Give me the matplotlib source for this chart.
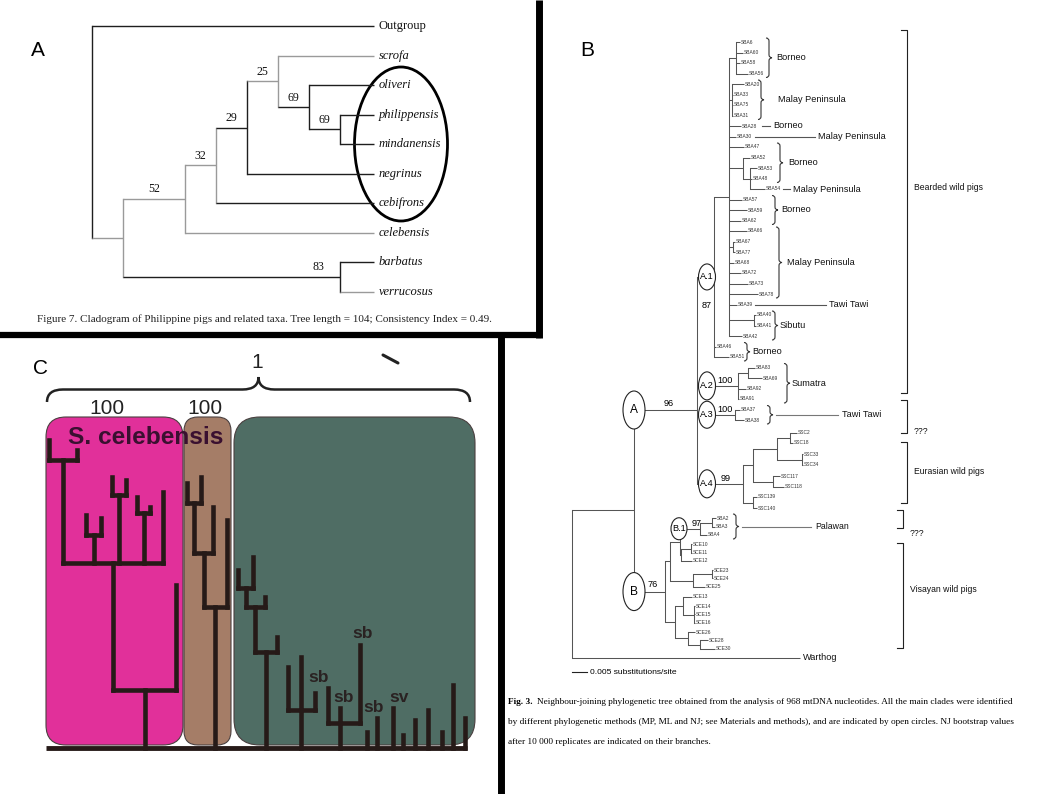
import matplotlib
matplotlib.use("Agg")
import matplotlib.pyplot as plt
from matplotlib.patches import Ellipse, FancyBboxPatch, PathPatch
from matplotlib.path import Path

W, H = 1059, 794
SANS = ["Liberation Sans", "DejaVu Sans"]
NARROW = ["Liberation Sans", "DejaVu Sans"]
SERIF = ["Liberation Serif", "DejaVu Serif"]


def N(x, *kids, y=None, b=None, bx=None, c=None, key=None):
    return {"x": x, "kids": list(kids), "y": y, "b": b, "bx": bx, "c": c, "key": key}


def T(i, c=None):
    return {"tip": i, "c": c}


def V(h, *kids, x=None):
    return {"h": h, "kids": list(kids), "x": x}


# ---------------- panel A : cladogram (x = step, y = row) ----------------
A_TAXA = ["Outgroup", "scrofa", "oliveri", "philippensis", "mindanensis",
          "negrinus", "cebifrons", "celebensis", "barbatus", "verrucosus"]
A_TIP_STEP = 9.1
A_CAPTION = ("Figure 7. Cladogram of Philippine pigs and related taxa. "
             "Tree length = 104; Consistency Index = 0.49.")
GRAY, BLACK = "#9a9a9a", "#1e1e1e"

a_tree = N(0, T(0),
           N(1,
             N(3,
               N(4,
                 N(5,
                   N(6, T(1, c=GRAY),
                     N(7, T(2),
                       N(8, T(3), T(4), b=69), b=69),
                     b=25, c=GRAY),
                   T(5), b=29),
                 T(6), b=32, c=GRAY),
               T(7, c=GRAY), b=52, c=GRAY),
             N(8, T(8), T(9, c=GRAY), b=83, bx=7.3),
             c=GRAY))

# ---------------- panel B : NJ tree (pixel layout) ----------------
B_TIPS = ["SBA6", "SBA60", "SBA58", "SBA56", "SBA20", "SBA33", "SBA75", "SBA31", "SBA28", "SBA30",
          "SBA47", "SBA52", "SBA53", "SBA48", "SBA54", "SBA57", "SBA59", "SBA62", "SBA66", "SBA67",
          "SBA77", "SBA68", "SBA72", "SBA73", "SBA78", "SBA39", "SBA40", "SBA41", "SBA42", "SBA46",
          "SBA51", "SBA83", "SBA69", "SBA92", "SBA91", "SBA37", "SBA38",
          "SSC2", "SSC18", "SSC33", "SSC34", "SSC117", "SSC118", "SSC139", "SSC140",
          "SBA2", "SBA3", "SBA4", "SCE10", "SCE11", "SCE12", "SCE23", "SCE24", "SCE25",
          "SCE13", "SCE14", "SCE15", "SCE16", "SCE26", "SCE28", "SCE30", "Warthog"]
B_ROWS = [42, 52.5, 63, 73.5, 84, 94.5, 105, 115.5, 126, 136.5,
          147, 157.5, 168, 178.5, 189, 199.5, 210, 220.5, 231, 241.5,
          252, 262.5, 273, 283.5, 294, 304.5, 315, 325.5, 336, 346.5,
          357, 367.5, 378, 388.5, 399, 409.5, 420,
          433, 443, 454, 465, 476, 487, 497, 508,
          518, 527, 535, 544, 553, 561, 570, 578, 587,
          597, 606, 614, 623, 632, 640, 649, 658]
B_ENDS = [740, 743, 740, 748, 744, 733, 733, 733, 741, 736,
          744, 750, 757, 752, 765, 742, 747, 741, 747, 735,
          735, 734, 741, 748, 758, 737, 756, 756, 742, 716,
          729, 755, 762, 746, 739, 740, 744,
          797, 793, 803, 803, 780, 784, 757, 757,
          716, 715, 707, 692, 692, 692, 713, 713, 705,
          692, 695, 695, 695, 695, 708, 715, 800]

b_tree = N(572,
           N(634,
             N(697,
               N(714,
                 N(729,
                   N(736, T(0), T(1), T(2), T(3)),
                   N(732, T(4), T(5), T(6), T(7)),
                   T(8), T(9), T(10),
                   N(743, T(11), N(750, T(12), T(13), T(14))),
                   T(15), T(16), T(17), T(18),
                   N(733, T(19), T(20)),
                   T(21), T(22), T(23), T(24), T(25),
                   N(754, T(26), T(27)),
                   T(28)),
                 T(29), T(30), key="A.1"),
               N(738, N(748, T(31), T(32)), T(33), T(34), key="A.2"),
               N(735, T(35), T(36), key="A.3"),
               N(743,
                 N(753, N(777, N(790, T(37), T(38)), N(802, T(39), T(40))),
                   N(773, T(41), T(42))),
                 N(753, T(43), T(44)), key="A.4"),
               y=410, key="A"),
             N(665,
               N(670,
                 N(680, N(700, N(712, T(45), T(46)), T(47), key="B.1"),
                   N(681, N(691, T(48), T(49)), T(50))),
                 N(693, N(712, T(51), T(52)), T(53))),
               N(675,
                 N(683, T(54), N(694, T(55), T(56), T(57))),
                 N(688, T(58), N(700, T(59), T(60)))),
               key="B"),
             y=510),
           T(61))

B_BOOT = {"A": 96, "A.1": 87, "A.2": 100, "A.3": 100, "A.4": 99, "B.1": 97, "B": 76}
# brace groups: first tip, last tip, label
B_BRACES = [(0, 3, "Borneo"), (4, 7, "Malay Peninsula"), (10, 13, "Borneo"),
            (15, 17, "Borneo"), (18, 24, "Malay Peninsula"), (26, 28, "Sibutu"),
            (29, 30, "Borneo"), (31, 34, "Sumatra"), (35, 36, "Tawi Tawi"), (45, 47, "Palawan")]
B_LEADERS = [(8, "Borneo"), (9, "Malay Peninsula"), (14, "Malay Peninsula"), (25, "Tawi Tawi")]
B_GROUPS = ["Bearded wild pigs", "???", "Eurasian wild pigs", "???", "Visayan wild pigs"]
B_GROUP_SPANS = [(30, 393), (400, 433), (442, 503), (510, 528), (543, 648)]
B_CAPTION = [
    "Neighbour-joining phylogenetic tree obtained from the analysis of 968 mtDNA nucleotides. All the main clades were identified",
    "by different phylogenetic methods (MP, ML and NJ; see Materials and methods), and are indicated by open circles. NJ bootstrap values",
    "after 10 000 replicates are indicated on their branches."]

# ---------------- panel C : upright tree over coloured clade boxes ----------------
C_TIP_X = [49, 77, 86, 101, 112, 126, 137, 150, 163, 176,
           187, 201, 213, 227,
           238, 253, 265, 277,
           288, 301, 315, 328, 340, 360,
           367, 377, 393, 403, 415, 428, 442, 453, 465]
C_TIP_TOP = [440, 450, 515, 518, 477, 480, 497, 507, 492, 585,
             483, 477, 507, 520,
             570, 557, 597, 637,
             667, 657, 693, 688, 708, 645,
             732, 718, 708, 735, 720, 710, 732, 685, 718]
c_clades = [V(690, V(563, V(460, T(0), T(1)), V(535, T(2), T(3)), V(495, T(4), T(5)),
                     V(513, T(6), T(7)), T(8)), T(9)),
            V(607, V(553, V(503, T(10), T(11)), T(12)), T(13)),
            V(652, V(607, V(588, T(14), T(15)), T(16)), T(17)),
            V(710, T(18), T(19), T(20), x=301),
            V(723, T(21), T(22), T(23), x=340)] + [T(i) for i in range(24, 33)]
C_BOXES = [("#e1309a", 46, 183, 20), ("#a57d67", 184, 231, 14), ("#4f6d64", 234, 475, 26)]
C_BOOT = ["100", "100"]
C_SUBLABELS = [("sb", 363, 634), ("sb", 319, 677), ("sb", 344, 697), ("sb", 374, 707), ("sv", 399, 697)]


# ---------------- helpers ----------------
def place(node, rows, ends):
    if "tip" in node:
        node["x"] = ends[node["tip"]]
        node["y"] = rows[node["tip"]]
        return node["y"]
    ys = [place(k, rows, ends) for k in node["kids"]]
    if node["y"] is None:
        node["y"] = (ys[0] + ys[-1]) / 2
    return node["y"]


def draw_h(axx, node, px, reg, color, lw):
    col = node.get("c") or color
    node["px"] = px
    if node.get("key"):
        reg[node["key"]] = node
    axx.plot([px, node["x"]], [node["y"]] * 2, color=col, lw=lw, solid_capstyle="butt")
    if "kids" in node:
        ys = [k["y"] for k in node["kids"]] + [node["y"]]
        axx.plot([node["x"]] * 2, [min(ys), max(ys)], color=col, lw=lw)
        for k in node["kids"]:
            draw_h(axx, k, node["x"], reg, color, lw)


def walk(node):
    yield node
    for k in node.get("kids", []):
        yield from walk(k)


def place_v(node):
    if "tip" in node:
        node["x"] = C_TIP_X[node["tip"]]
        node["h"] = C_TIP_TOP[node["tip"]]
        return node["x"]
    xs = [place_v(k) for k in node["kids"]]
    if node["x"] is None:
        node["x"] = (xs[0] + xs[-1]) / 2
    return node["x"]


def draw_v(axx, node, ph, **kw):
    axx.plot([node["x"]] * 2, [ph, node["h"]], solid_capstyle="projecting", **kw)
    if "tip" not in node:
        xs = [k["x"] for k in node["kids"]]
        axx.plot([min(xs), max(xs)], [node["h"]] * 2, solid_capstyle="projecting", **kw)
        for k in node["kids"]:
            draw_v(axx, k, node["h"], **kw)


def brace_verts(L, Wd, r):
    m = L / 2
    h = Wd / 2
    uv = [(0, 0), (0, h), (r, h), (m - r, h), (m, h), (m, Wd), (m, h), (m + r, h),
          (L - r, h), (L, h), (L, 0)]
    codes = [Path.MOVETO, Path.CURVE3, Path.CURVE3, Path.LINETO, Path.CURVE3, Path.CURVE3,
             Path.CURVE3, Path.CURVE3, Path.LINETO, Path.CURVE3, Path.CURVE3]
    return uv, codes


def vbrace(axx, x, y0, y1, w, **kw):
    uv, codes = brace_verts(y1 - y0, w, min(3, (y1 - y0) / 4))
    verts = [(x + v, y0 + u) for u, v in uv]
    axx.add_patch(PathPatch(Path(verts, codes), fill=False, **kw))


def fit(t, width):
    r = fig.canvas.get_renderer()
    bb = t.get_window_extent(r)
    t.set_fontsize(t.get_fontsize() * width / bb.width)


# ---------------- figure ----------------
fig = plt.figure(figsize=(W / 100, H / 100), dpi=100)
ax = fig.add_axes([0, 0, 1, 1])
ax.set_xlim(0, W)
ax.set_ylim(H, 0)
ax.axis("off")

# panel borders
ax.plot([0, 541], [335, 335], color="black", lw=4.5, solid_capstyle="butt")
ax.plot([538.5, 538.5], [0, 338], color="black", lw=5, solid_capstyle="butt")
ax.plot([501, 501], [333, H], color="black", lw=5, solid_capstyle="butt")

# ---- panel A
ax_a = fig.add_axes([0, 0, 1, 1])
ax_a.set_xlim(-92 / 31, (W - 92) / 31)
ax_a.set_ylim((H - 26) / 29.55, -26 / 29.55)
ax_a.axis("off")
ax_a.patch.set_alpha(0)

place(a_tree, list(range(len(A_TAXA))), [A_TIP_STEP] * len(A_TAXA))
draw_h(ax_a, a_tree, 0, {}, BLACK, 1.0)
for i, name in enumerate(A_TAXA):
    ax_a.text(A_TIP_STEP + 0.15, i, name, family=SERIF, style="normal" if i == 0 else "italic",
              fontsize=9.0, va="center", ha="left", color="#111")
for nd in walk(a_tree):
    if nd.get("b") is not None:
        bx = nd["bx"] if nd["bx"] is not None else (nd["px"] + nd["x"]) / 2
        ax_a.text(bx, nd["y"] - 0.33, str(nd["b"]), family=SERIF, fontsize=8.6,
                  ha="center", va="center", color="#111")
ax.add_patch(Ellipse((401, 144), 93, 154, fill=False, lw=2, ec="black"))
ax.text(38, 51, "A", family=SANS, fontsize=15, ha="center", va="center")
tA = ax.text(37, 319, A_CAPTION, family=SERIF, fontsize=8.5, ha="left", va="center", color="#222")

# ---- panel B
place(b_tree, B_ROWS, B_ENDS)
reg = {}
draw_h(ax, b_tree, b_tree["x"], reg, "#555", 0.75)
for i, name in enumerate(B_TIPS[:-1]):
    ax.text(B_ENDS[i] + 1.2, B_ROWS[i], name, family=NARROW, fontsize=3.5,
            va="center", ha="left", color="#333")
ax.text(B_ENDS[-1] + 3, B_ROWS[-1], B_TIPS[-1], family=NARROW, fontsize=6.6,
        va="center", ha="left", color="#111")

circ = {"A": (0, 22, 38), "B": (0, 22, 38), "A.1": (10, 17, 26), "A.2": (10, 17, 28),
        "A.3": (10, 17, 27), "A.4": (10, 17, 28), "B.1": (-1, 16, 22)}
for key, (dx, cw, chh) in circ.items():
    nd = reg[key]
    cx = nd["px"] + dx
    ax.add_patch(Ellipse((cx, nd["y"]), cw, chh, fc="white", ec="#222", lw=0.8, zorder=3))
    ax.text(cx, nd["y"], key, family=NARROW, fontsize=8.6 if len(key) == 1 else 6.6,
            ha="center", va="center", zorder=4)
    val = str(B_BOOT[key])
    if key in ("A", "B"):
        bx, by = (nd["px"] + nd["x"]) / 2 + 3, nd["y"] - 7
    elif key == "A.1":
        bx, by = cx, nd["y"] + 29
    else:
        bx, by = cx + cw / 2 + 10, nd["y"] - 5
    ax.text(bx, by, val, family=NARROW, fontsize=6.6, ha="center", va="center")

brace_pos = {0: (766, 776), 4: (758, 778), 10: (777, 788), 15: (772, 781), 18: (776, 787),
             26: (772, 780), 29: (744, 752), 31: (784, 792), 35: (767, 842), 45: (733, 815)}
for first, last, label in B_BRACES:
    bx, lx = brace_pos[first]
    y0, y1 = B_ROWS[first] - 4, B_ROWS[last] + 4
    vbrace(ax, bx, y0, y1, 6, ec="#333", lw=0.8)
    ym = (y0 + y1) / 2
    fs = 6.3 if label == "Palawan" else 6.6
    if lx - bx > 20:
        ax.plot([bx + 9, lx - 4], [ym, ym], color="#777", lw=0.8)
    ax.text(lx, ym, label, family=NARROW, fontsize=fs, ha="left", va="center", color="#111")

leader_pos = {8: (762, 770), 9: (755, 815), 14: (783, 790), 25: (755, 826)}
for tip, label in B_LEADERS:
    x0, x1 = leader_pos[tip]
    ax.plot([x0, x1], [B_ROWS[tip]] * 2, color="#555", lw=0.8)
    ax.text(x1 + 3, B_ROWS[tip], label, family=NARROW, fontsize=6.6, ha="left", va="center",
            color="#111")

group_x = [907, 907, 907, 903, 903]
group_label_y = [187, 432, 471, 533, 589]
for label, (y0, y1), gx, gy in zip(B_GROUPS, B_GROUP_SPANS, group_x, group_label_y):
    ax.plot([gx - 6, gx, gx, gx - 6], [y0, y0, y1, y1], color="#222", lw=0.8)
    ax.text(gx + 7, gy, label, family=NARROW, fontsize=6.2, ha="left", va="center", color="#111")

ax.plot([572, 587], [672, 672], color="#222", lw=0.8)
ax.text(590, 672, "0.005 substitutions/site", family=NARROW, fontsize=6.1, ha="left", va="center")
ax.text(587, 50, "B", family=SANS, fontsize=15, ha="center", va="center")

cap_lines = []
t0 = ax.text(508, 702, "Fig. 3.", family=SERIF, fontsize=7.6, weight="bold", ha="left", va="center")
cap_lines.append(ax.text(535, 702, B_CAPTION[0], family=SERIF, fontsize=7.6, ha="left", va="center"))
cap_lines.append(ax.text(508, 722, B_CAPTION[1], family=SERIF, fontsize=7.6, ha="left", va="center"))
cap_lines.append(ax.text(508, 742, B_CAPTION[2], family=SERIF, fontsize=7.6, ha="left", va="center"))

# ---- panel C
for col, x0, x1, rad in C_BOXES:
    ax.add_patch(FancyBboxPatch((x0, 417), x1 - x0, 328,
                                boxstyle=f"round,pad=0,rounding_size={rad}",
                                fc=col, ec="#4a4040", lw=0.8, zorder=1))
TREE_C = "#261a18"
for cl in c_clades:
    place_v(cl)
    draw_v(ax, cl, 748, color=TREE_C, lw=3.3, zorder=3)
ax.plot([46, 467], [748, 748], color=TREE_C, lw=3.5, zorder=3, solid_capstyle="butt")

uv, codes = brace_verts(470 - 47, 25, 16)
ax.add_patch(PathPatch(Path([(47 + u, 402 - v) for u, v in uv], codes),
                       fill=False, ec="#222", lw=1.8))
ax.plot([383, 398], [355, 363], color="#222", lw=2.2, solid_capstyle="round")
ax.text(257, 363, "1", family=SANS, fontsize=15, ha="center", va="center", color="#222")
for s, xb in zip(C_BOOT, [107, 205]):
    ax.text(xb, 408, s, family=SANS, fontsize=15, ha="center", va="center", color="#222")
tS = ax.text(68, 437, "S. celebensis", family=SANS, fontsize=15, weight="bold",
             ha="left", va="center", color="#3a1030", zorder=4)
for s, sx, sy in C_SUBLABELS:
    ax.text(sx, sy, s, family=SANS, fontsize=12.5, weight="bold", ha="center", va="center",
            color="#2a2222", zorder=4)
ax.text(40, 368, "C", family=SANS, fontsize=15, ha="center", va="center")

# fit caption widths to the reference
fig.canvas.draw()
fit(tA, 456)
fit(cap_lines[1], 499)
fs = cap_lines[1].get_fontsize()
for t in (t0, cap_lines[0], cap_lines[2]):
    t.set_fontsize(fs)
fig.canvas.draw()
r = fig.canvas.get_renderer()
bb0 = t0.get_window_extent(r)
cap_lines[0].set_x(508 + bb0.width + 4)
fit(tS, 156)

fig.savefig("out.png", dpi=100)
